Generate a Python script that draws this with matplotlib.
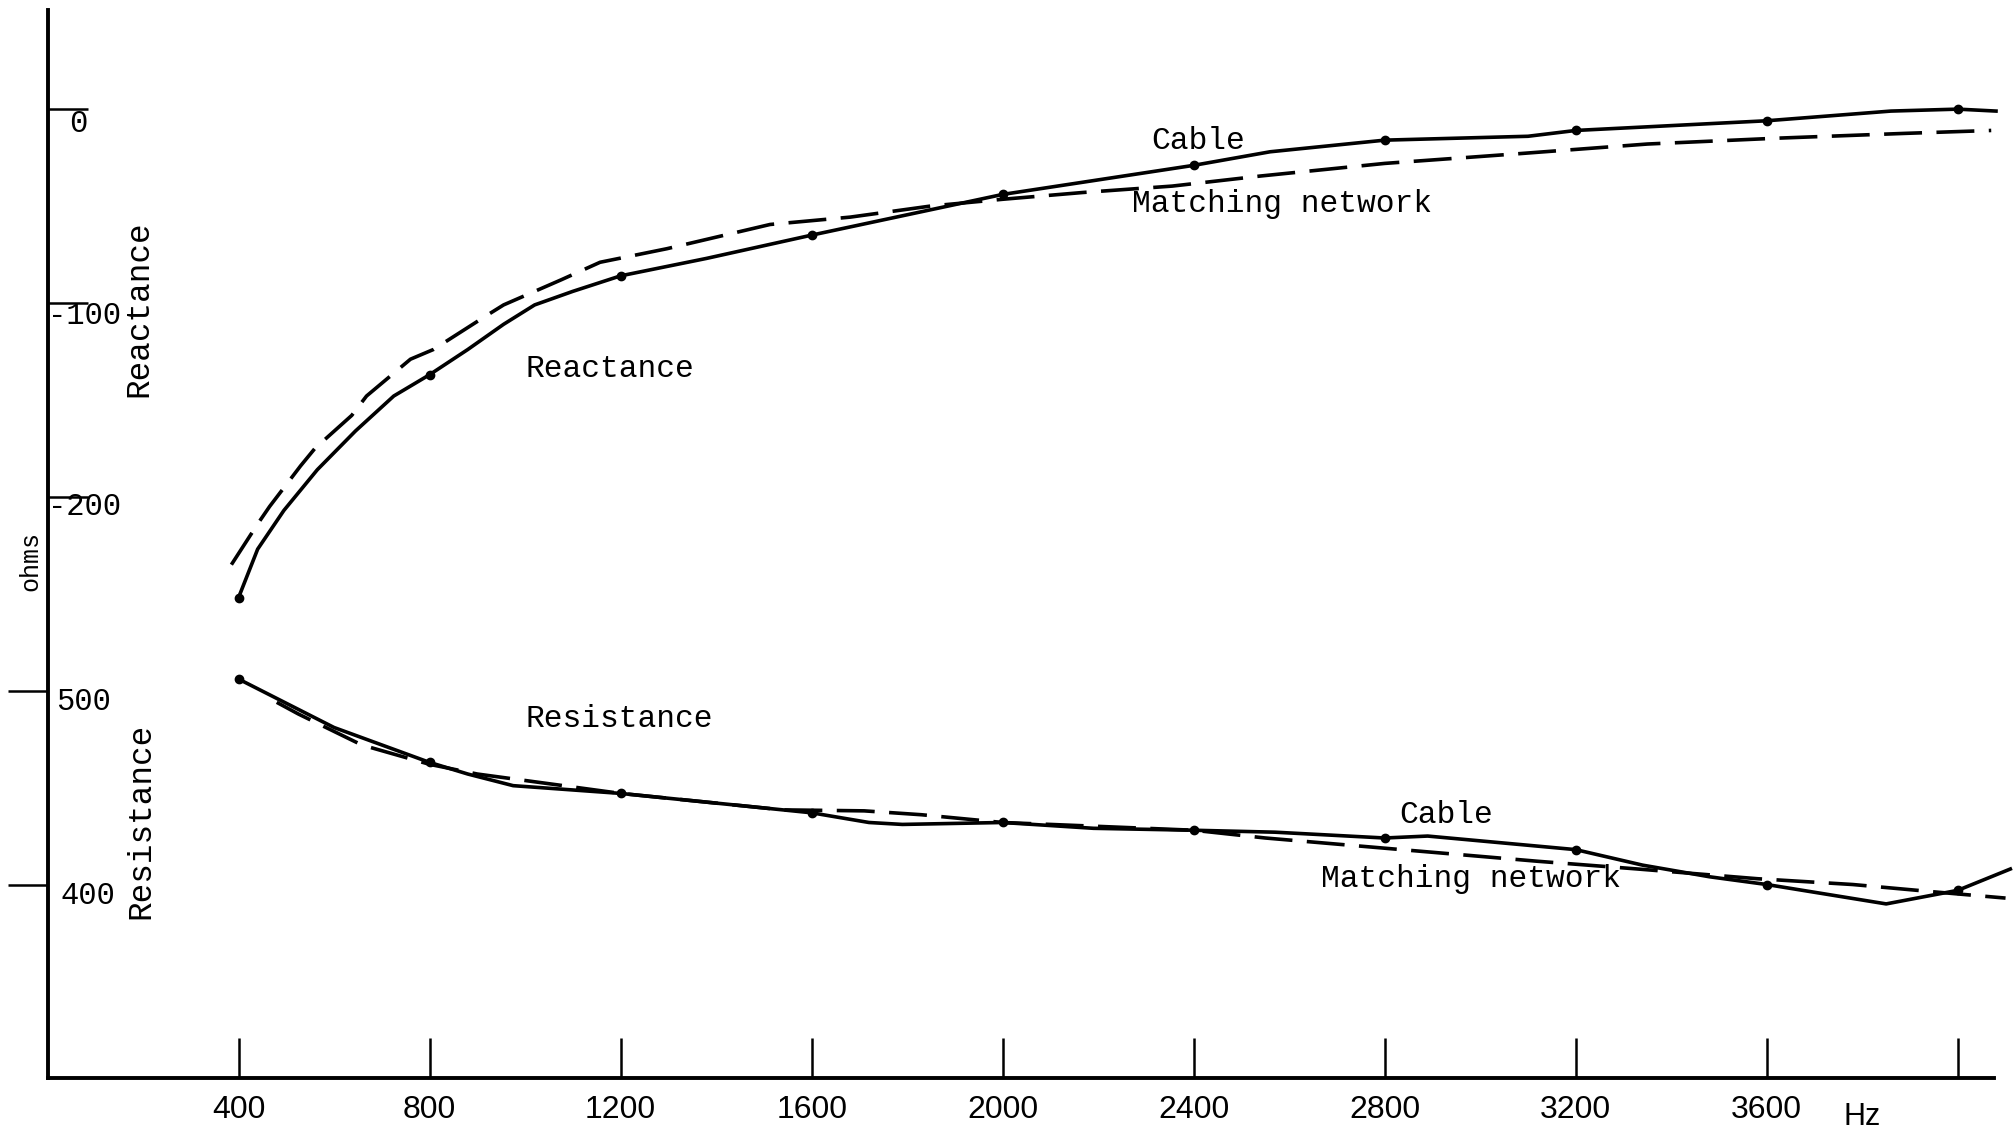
import matplotlib.pyplot as plt
from matplotlib.ticker import FixedLocator

# reactance curves (ohms)
freq_xc_cable = [400, 440, 495, 565, 645, 725, 800, 880, 955, 1020, 1100, 1200, 1380, 1600, 2000, 2400,
                 2560, 2800, 3100, 3200, 3600, 3860, 4000, 4080]
xc_cable = [-252, -227, -207, -186, -166, -148, -137, -124, -111, -101, -94, -86, -77, -65, -44, -29,
            -22, -16, -14, -11, -6, -1, 0, -1]
freq_xc_match = [385, 440, 465, 530, 560, 637, 668, 760, 808, 916, 955, 1076, 1157, 1297, 1513, 1681,
                 1849, 2000, 2168, 2355, 2540, 2800, 3080, 3350, 3620, 3890, 4070]
xc_match = [-235, -214, -205, -184, -175, -158, -148, -129, -124, -107, -101, -88, -79, -72, -59.5, -55.7,
            -50, -46.5, -43, -39.7, -34.5, -28, -23, -18, -15, -12.5, -11]

# resistance curves (ohms)
freq_r_cable = [400, 600, 800, 880, 975, 1200, 1440, 1600, 1720, 1790, 2000, 2190, 2400, 2570, 2800, 2890,
                3200, 3340, 3480, 3600, 3850, 4000, 4110]
r_cable = [506, 481, 463, 457, 451, 447, 441, 437, 432, 431, 432, 429, 428, 427, 424, 425,
           418, 410, 404, 400, 390, 397, 408]
freq_r_match = [480, 525, 658, 800, 900, 1200, 1540, 1710, 1830, 2000, 2400, 2550, 2740, 2930, 3120,
                3330, 3580, 3780, 3960, 4100]
r_match = [494, 488, 472, 462, 457, 447, 438.5, 438, 436, 432, 428, 424, 420, 416, 412,
           408, 403, 400, 396, 393]

# frequencies where the cable was measured (dots on the curves)
meas_freq = [400, 800, 1200, 1600, 2000, 2400, 2800, 3200, 3600, 4000]

x_ticks = [400, 800, 1200, 1600, 2000, 2400, 2800, 3200, 3600, 4000]
x_labels = ['400', '800', '1200', '1600', '2000', '2400', '2800', '3200', '3600', '']
react_ticks = [0, -100, -200]
res_ticks = [500, 400]
res_offset = 800  # resistance scale sits under the reactance scale

mono = ['Liberation Mono', 'DejaVu Sans Mono']
sans = ['Liberation Sans', 'DejaVu Sans']

fig = plt.figure(figsize=(20.13, 11.34), dpi=100)
ax = fig.add_axes([0, 0, 1, 1])
ax.set_xlim(-99.5, 4115.6)
ax.set_ylim(-528.7, 56.3)

solid = dict(color='black', lw=2.6, marker='o', ms=6)
dashed = dict(color='black', lw=2.6, ls=(0, (10.5, 4)))

ax.plot(freq_xc_cable, xc_cable, markevery=[i for i, f in enumerate(freq_xc_cable) if f in meas_freq], **solid)
ax.plot(freq_xc_match, xc_match, **dashed)
ax.plot(freq_r_cable, [r - res_offset for r in r_cable],
        markevery=[i for i, f in enumerate(freq_r_cable) if f in meas_freq], **solid)
ax.plot(freq_r_match, [r - res_offset for r in r_match], **dashed)

# axes lines
for s in ['top', 'right']:
    ax.spines[s].set_visible(False)
ax.spines['left'].set_position(('data', 0))
ax.spines['bottom'].set_position(('data', -500))
ax.spines['left'].set_bounds(-500, 51)
ax.spines['bottom'].set_bounds(0, 4075)
ax.spines['left'].set_linewidth(2.8)
ax.spines['bottom'].set_linewidth(2.8)

ax.set_xticks(x_ticks)
ax.set_xticklabels(x_labels, family=sans, fontsize=23)
ax.tick_params(axis='x', direction='in', length=29, width=1.8, pad=12)

ax.yaxis.set_major_locator(FixedLocator(react_ticks))
ax.yaxis.set_minor_locator(FixedLocator([r - res_offset for r in res_ticks]))
ax.tick_params(axis='y', which='major', direction='in', length=29, width=1.8, labelleft=False)
ax.tick_params(axis='y', which='minor', direction='out', length=29, width=1.8, labelleft=False)

# y tick labels, drawn just right of the axis
ylab_vals = react_ticks + [r - res_offset for r in res_ticks]
ylab_text = [str(v) for v in react_ticks] + [str(r) for r in res_ticks]
ylab_dx = [15.7, 0, 0, 6.5, 9.2]
ylab_dy = [-11, -9.2, -7.4, -8.3, -8.3]
for v, t, dx, dy in zip(ylab_vals, ylab_text, ylab_dx, ylab_dy):
    ax.annotate(t, xy=(0, v), xytext=(dx, dy), textcoords='offset points',
                family=mono, fontsize=22, ha='left', va='center')

ax.text(191, -103, 'Reactance', rotation=90, family=mono, fontsize=23.5, ha='center', va='center')
ax.text(196, -367, 'Resistance', rotation=90, family=mono, fontsize=23.5, ha='center', va='center')
ax.text(-35, -233, 'ohms', rotation=90, family=mono, fontsize=18, ha='center', va='center')
ax.text(3799, -520, 'Hz', family=sans, fontsize=22, ha='center', va='center')

ax.text(2311, -16.6, 'Cable', family=mono, fontsize=22.5, va='center')
ax.text(2271, -49, 'Matching network', family=mono, fontsize=22.5, va='center')
ax.text(1000, -134, 'Reactance', family=mono, fontsize=22.5, va='center')
ax.text(1000, -314.6, 'Resistance', family=mono, fontsize=22.5, va='center')
ax.text(2830, -364, 'Cable', family=mono, fontsize=22.5, va='center')
ax.text(2666, -397, 'Matching network', family=mono, fontsize=22.5, va='center')

fig.savefig('out.png', dpi=100, facecolor='white')
